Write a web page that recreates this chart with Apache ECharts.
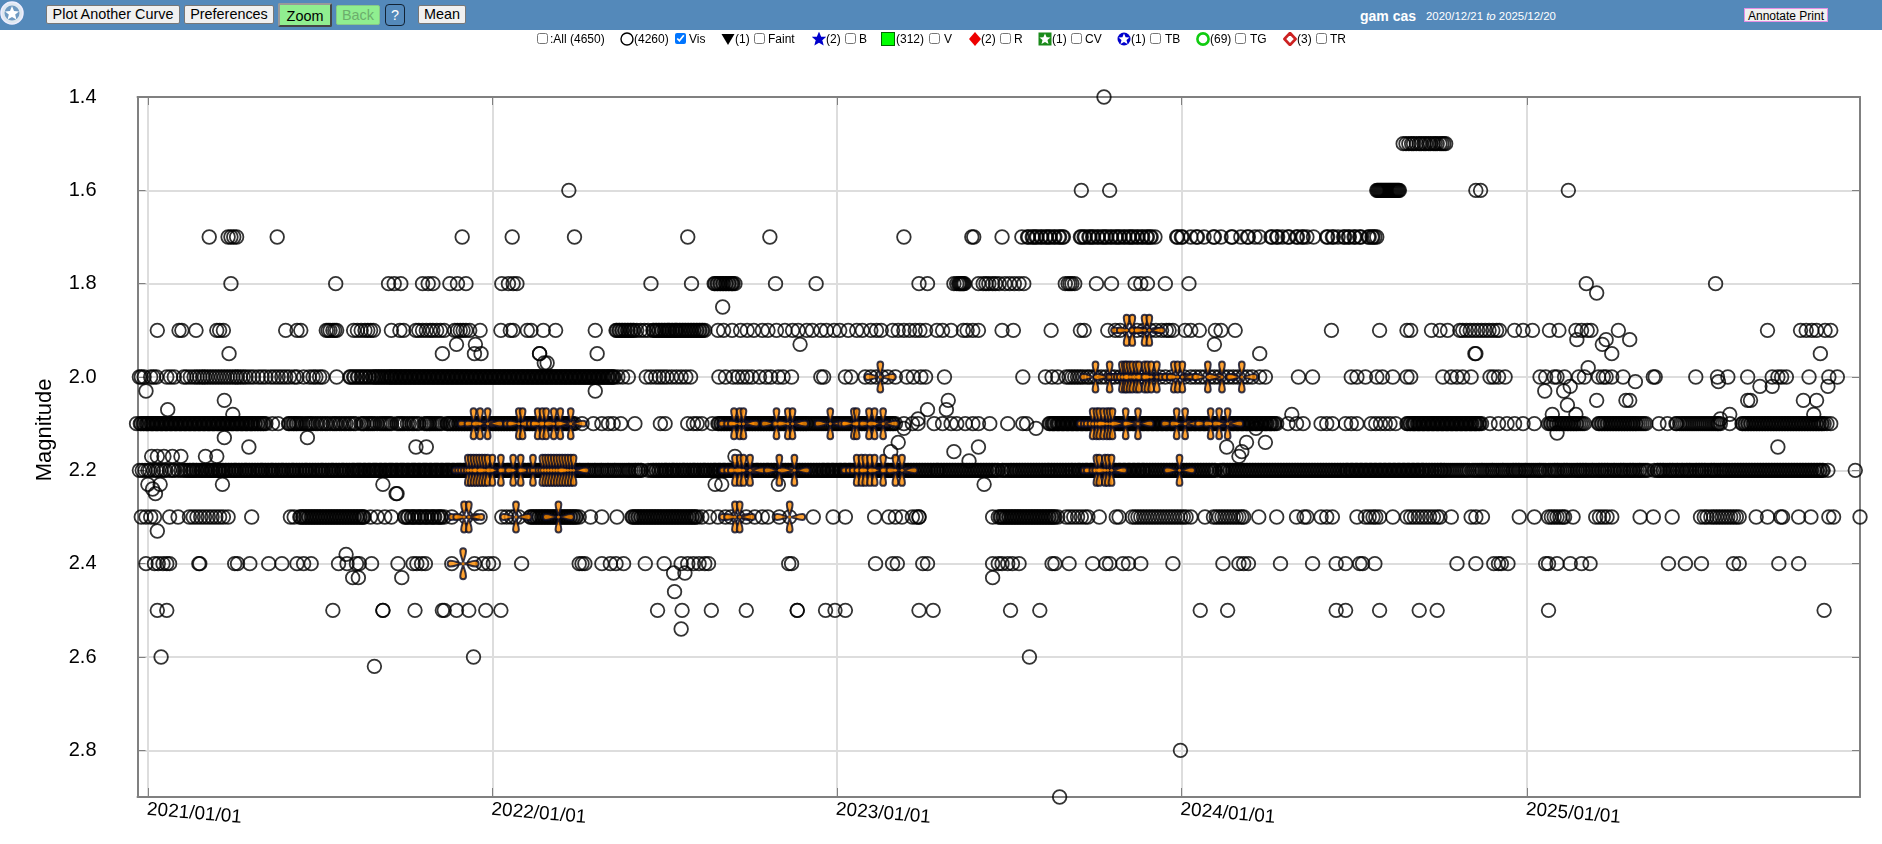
<!DOCTYPE html>
<html>
<head>
<meta charset="utf-8">
<title>gam cas light curve</title>
<script src="https://cdn.jsdelivr.net/npm/echarts@6/dist/echarts.min.js"></script>
<style>
html,body{margin:0;padding:0;width:1882px;height:844px;overflow:hidden;background:#fff;font-family:"Liberation Sans",Arial,sans-serif;}
#chart{position:absolute;left:0;top:0;width:1882px;height:844px;}
#bar{position:absolute;left:0;top:0;width:1882px;height:30px;background:#5489BA;}
.b{position:absolute;box-sizing:border-box;font:14.4px "Liberation Sans",Arial,sans-serif;padding:0;background:#f0f0f0;color:#000;border:1px solid #777;border-radius:2px;text-align:center;}
.t{position:absolute;white-space:nowrap;font:12px "Liberation Sans",Arial,sans-serif;color:#000;top:32px;line-height:14px;}
.c{position:absolute;top:33px;width:11px;height:11px;margin:0;}
.m{position:absolute;top:32px;}
</style>
</head>
<body>
<div id="chart"></div>
<div id="bar"></div>
<div id="top"></div>
<script>
const days14 = [1013];
const days15 = [1330,1333,1336,1339,1341,1344,1347,1349,1352,1354,1357,1359,1362,1364,1366,1369,1371,1373,1375];
const days16 = [446,989,1019,1302,1303,1304,1305,1306,1307,1308,1309,1310,1311,1312,1313,1314,1315,1316,1317,1318,1319,1320,1321,1322,1323,1324,1325,1326,1407,1412,1505];
const days17 = [65,85,88,91,94,137,333,386,452,572,659,801,873,875,905,926,932,933,937,938,941,942,946,947,951,952,955,956,960,961,965,966,969,970,988,989,992,993,997,998,1001,1002,1006,1007,1011,1012,1015,1016,1020,1021,1025,1026,1029,1030,1034,1035,1039,1040,1043,1044,1048,1049,1053,1054,1058,1059,1062,1063,1067,1090,1091,1095,1096,1105,1111,1112,1119,1129,1130,1137,1148,1149,1158,1165,1166,1173,1178,1190,1191,1196,1197,1202,1208,1209,1217,1218,1223,1224,1228,1235,1249,1250,1255,1256,1261,1267,1268,1272,1273,1278,1279,1284,1285,1293,1294,1297,1298,1300,1302];
const days18 = [88,199,255,261,268,291,297,302,320,328,337,375,382,387,391,533,576,600,601,603,604,606,607,609,610,612,613,615,616,618,619,620,622,665,708,817,826,860,862,864,865,854,857,859,861,863,880,885,888,891,895,898,902,908,913,918,923,928,972,975,977,979,982,1005,1021,1046,1052,1059,1078,1103,1524,1661];
const days19 = [10,33,36,51,73,76,80,146,158,162,189,191,193,196,198,200,218,222,226,230,233,236,239,258,267,271,284,287,291,295,299,302,306,310,314,325,328,331,334,337,341,352,374,384,387,402,406,419,432,474,496,497,499,500,502,503,505,506,508,509,511,512,514,515,518,522,526,530,535,536,538,539,541,542,544,545,547,548,550,551,552,553,555,556,558,559,560,561,563,564,566,567,569,570,572,573,575,576,578,579,581,582,584,585,587,588,590,604,610,619,628,635,642,651,657,666,675,683,689,698,704,713,719,727,733,742,751,757,766,772,777,789,795,801,807,813,818,824,836,842,851,864,868,874,880,905,917,957,988,992,1017,1025,1030,1040,1048,1055,1062,1068,1074,1079,1082,1086,1099,1105,1114,1131,1137,1152,1254,1305,1334,1338,1360,1369,1377,1390,1393,1397,1401,1405,1409,1413,1417,1421,1425,1429,1432,1448,1457,1467,1485,1495,1513,1519,1525,1529,1558,1716,1751,1757,1763,1768,1777,1783];
const days20 = [-9,-7,-4,3,6,9,20,24,28,38,41,45,49,52,55,58,60,63,66,69,72,75,78,81,84,87,90,93,95,98,101,104,108,112,117,121,125,130,134,138,142,146,150,155,158,165,171,175,178,182,185,200,214,218,222,226,230,234,238,241,244,247,250,253,256,258,261,263,266,268,271,273,276,278,281,283,286,288,291,293,296,298,301,303,306,308,311,313,316,318,321,323,326,328,331,333,336,338,341,343,346,348,351,353,356,358,361,363,366,368,371,373,376,378,381,383,386,388,391,393,396,398,401,403,406,408,411,413,416,418,421,423,426,428,431,433,436,438,441,443,446,448,451,453,456,458,461,463,466,468,471,473,476,478,481,483,486,488,491,493,498,503,509,528,533,538,542,546,550,555,560,565,570,575,605,612,620,625,630,635,640,648,655,660,668,673,682,713,716,739,745,760,766,772,778,784,792,804,811,819,824,844,927,951,958,964,973,976,979,982,985,988,991,995,998,1002,1005,1010,1015,1020,1024,1030,1034,1038,1042,1046,1050,1055,1060,1065,1072,1078,1085,1092,1098,1105,1110,1115,1120,1125,1130,1135,1140,1145,1150,1155,1160,1165,1170,1178,1184,1219,1234,1275,1281,1290,1302,1308,1319,1334,1338,1372,1381,1387,1393,1402,1422,1426,1431,1438,1475,1481,1490,1493,1501,1516,1522,1537,1542,1545,1551,1563,1595,1597,1640,1663,1674,1695,1721,1727,1731,1736,1760,1781,1790];
const days20b = [215,219,223,227,231,235,239,242,245,248,251,254,257,259,262,264,267,269,272,274,277,279,282,284,287,289,292,294,297,299,302,304,307,309,312,314,317,319,322,324,327,329,332,334,337,339,342,344,347,349,352,354,357,359,362,364,367,369,372,374,377,379,382,384,387,389,392,394,397,399,402,404,407,409,412,414,417,419,422,424,427,429,432,434,437,439,442,444,447,449,452,454,457,459,462,464,467,469,472,474,477,479,482,484,487,489,492,494];
const days21 = [-12,-8,-5,-2,0,3,5,8,10,13,15,18,20,23,25,28,30,33,35,38,40,43,45,48,50,53,55,58,60,63,65,68,70,73,75,78,80,83,85,88,90,93,95,98,100,103,105,108,110,113,116,119,122,125,132,138,149,152,155,158,162,167,171,175,180,185,190,196,200,205,210,215,220,226,229,232,236,240,246,250,254,258,264,268,272,277,282,287,293,296,299,303,307,311,317,320,323,326,329,332,335,338,341,344,347,350,353,356,359,362,365,368,371,374,377,380,383,386,389,392,395,398,401,404,407,410,413,416,419,422,425,428,431,434,437,440,443,446,449,452,460,472,481,488,493,501,516,543,548,572,578,582,587,598,604,607,610,613,616,619,622,625,628,631,634,637,640,643,646,649,652,655,658,661,664,667,670,673,676,679,682,685,688,691,694,697,700,704,708,712,716,720,724,728,732,736,740,744,748,751,754,757,760,763,766,769,772,775,778,781,784,787,790,792,801,810,816,833,842,851,857,866,874,880,892,911,927,931,955,958,960,963,965,968,970,973,975,978,980,983,985,988,990,993,995,998,1000,1003,1005,1008,1010,1013,1015,1018,1020,1023,1025,1028,1030,1033,1035,1038,1040,1043,1045,1048,1050,1053,1055,1058,1060,1063,1065,1068,1070,1073,1075,1078,1080,1083,1085,1088,1090,1093,1095,1098,1100,1103,1105,1108,1110,1113,1115,1118,1120,1123,1125,1128,1130,1133,1135,1138,1140,1143,1145,1148,1150,1153,1155,1158,1160,1163,1165,1168,1170,1173,1175,1178,1180,1183,1185,1188,1190,1193,1196,1208,1217,1224,1243,1249,1255,1269,1275,1281,1296,1301,1306,1311,1316,1322,1334,1337,1340,1342,1345,1347,1350,1352,1355,1357,1360,1362,1365,1367,1370,1372,1375,1377,1380,1382,1385,1387,1390,1392,1395,1397,1400,1402,1405,1407,1410,1413,1422,1431,1440,1448,1457,1469,1484,1487,1490,1493,1496,1499,1502,1505,1508,1511,1514,1518,1522,1537,1540,1543,1546,1549,1552,1555,1558,1561,1564,1567,1570,1573,1576,1579,1583,1587,1601,1610,1619,1623,1627,1631,1635,1639,1643,1647,1651,1655,1659,1663,1666,1676,1689,1692,1695,1698,1701,1704,1707,1710,1713,1716,1719,1722,1725,1728,1731,1734,1737,1740,1743,1746,1749,1752,1755,1758,1761,1764,1767,1770,1773,1776,1779,1783];
const days21b = [-7,-4,-1,1,4,6,9,11,14,16,19,21,24,26,29,31,34,36,39,41,44,46,49,51,54,56,59,61,64,66,69,71,74,76,79,81,84,86,89,91,94,96,99,101,104,106,109,111,114,117,120,123,150,154,157,160,164,169,173,178,183,188,193,198,203,208,213,218,228,234,238,243,248,252,256,266,270,275,280,285,295,298,301,305,309,318,321,324,327,330,333,336,339,342,345,348,351,354,357,360,363,366,369,372,375,378,381,384,387,390,393,396,399,402,405,408,411,414,417,420,423,426,429,432,435,438,441,444,447,450,605,608,611,614,617,620,623,626,629,632,635,638,641,644,647,650,653,656,659,662,665,668,671,674,677,680,683,686,689,692,695,698,702,706,710,714,718,722,726,730,734,738,742,746,750,753,756,759,762,765,768,771,774,777,780,783,786,789,956,959,961,964,966,969,971,974,976,979,981,984,986,989,991,994,996,999,1001,1004,1006,1009,1011,1014,1016,1019,1021,1024,1026,1029,1031,1034,1036,1039,1041,1044,1046,1049,1051,1054,1056,1059,1061,1064,1066,1069,1071,1074,1076,1079,1081,1084,1086,1089,1091,1094,1096,1099,1101,1104,1106,1109,1111,1114,1116,1119,1121,1124,1126,1129,1131,1134,1136,1139,1141,1144,1146,1149,1151,1154,1156,1159,1161,1164,1166,1169,1171,1174,1176,1179,1181,1184,1186,1189,1191,1194,1335,1338,1341,1343,1346,1348,1351,1353,1356,1358,1361,1363,1366,1368,1371,1373,1376,1378,1381,1383,1386,1388,1391,1393,1396,1398,1401,1403,1406,1408,1411,1486,1489,1492,1495,1498,1501,1504,1507,1510,1513,1516,1520,1538,1541,1544,1547,1550,1553,1556,1559,1562,1565,1568,1571,1574,1577,1581,1585,1620,1625,1629,1633,1637,1641,1645,1649,1653,1657,1661,1664,1690,1693,1696,1699,1702,1705,1708,1711,1714,1717,1720,1723,1726,1729,1732,1735,1738,1741,1744,1747,1750,1753,1756,1759,1762,1765,1768,1771,1774];
const days22 = [-9,-6,-3,0,2,6,9,11,14,17,19,23,26,28,32,35,38,40,44,47,49,52,56,58,61,64,67,69,72,75,77,80,83,86,89,92,94,97,100,103,105,108,111,114,117,120,122,125,128,131,133,136,139,142,144,147,150,153,155,158,161,164,167,169,172,175,178,181,184,186,189,192,195,197,200,203,206,208,211,214,217,219,222,224,226,229,231,234,236,239,241,243,246,248,251,253,256,258,260,263,265,268,270,272,275,277,280,282,284,287,289,292,294,296,299,301,304,306,308,311,313,316,318,320,323,325,328,330,332,335,337,340,342,344,347,349,352,354,356,359,361,364,366,369,371,373,376,378,381,383,385,388,390,393,395,398,400,403,405,407,410,412,415,417,420,422,424,427,429,432,434,437,439,441,444,446,449,451,454,457,460,464,467,471,474,478,481,485,488,492,495,499,503,507,510,514,517,520,523,530,533,536,539,542,545,548,550,553,556,558,561,564,567,569,572,575,578,580,583,586,589,591,594,597,600,602,605,607,610,612,615,617,620,622,625,627,630,632,635,637,640,642,645,647,650,653,656,658,661,664,667,670,673,676,679,682,685,688,691,694,697,700,703,706,709,712,715,717,720,722,725,727,730,733,735,738,740,743,745,748,750,753,755,758,760,763,765,768,770,773,775,778,780,783,785,788,790,793,795,798,800,803,806,809,812,815,818,821,824,827,830,833,836,838,841,844,847,850,853,856,859,862,865,868,871,874,877,880,883,886,889,892,895,898,901,905,908,912,915,918,921,924,927,930,933,936,939,942,945,948,951,954,957,960,963,966,969,972,975,978,980,983,986,988,991,994,996,999,1001,1004,1006,1009,1011,1014,1016,1019,1021,1024,1026,1029,1031,1034,1036,1039,1041,1044,1046,1049,1051,1054,1056,1059,1062,1065,1068,1071,1074,1077,1080,1083,1086,1089,1092,1095,1098,1101,1104,1107,1110,1113,1116,1119,1122,1125,1128,1131,1136,1139,1141,1144,1147,1150,1153,1156,1159,1162,1165,1168,1171,1174,1177,1180,1183,1186,1189,1192,1195,1198,1201,1204,1207,1210,1213,1216,1219,1222,1225,1228,1231,1234,1237,1240,1243,1246,1249,1252,1255,1258,1261,1264,1267,1270,1272,1275,1277,1280,1282,1285,1287,1290,1292,1295,1297,1300,1302,1305,1307,1310,1312,1315,1317,1320,1322,1325,1327,1330,1332,1335,1337,1340,1342,1345,1347,1350,1352,1355,1358,1361,1364,1367,1370,1373,1376,1380,1384,1388,1392,1394,1398,1403,1407,1411,1414,1418,1422,1425,1429,1433,1436,1440,1444,1447,1450,1453,1457,1460,1464,1468,1472,1475,1479,1484,1488,1491,1494,1498,1501,1504,1508,1512,1515,1518,1521,1524,1528,1531,1535,1538,1541,1544,1547,1551,1554,1558,1561,1564,1568,1571,1574,1578,1581,1585,1589,1596,1599,1602,1605,1608,1612,1615,1618,1621,1625,1628,1631,1634,1638,1641,1644,1647,1650,1654,1657,1660,1664,1667,1670,1673,1676,1679,1682,1685,1688,1691,1694,1697,1700,1703,1706,1709,1712,1715,1718,1721,1724,1727,1730,1733,1736,1739,1742,1745,1748,1751,1754,1757,1760,1763,1766,1769,1772,1775,1780,1809];
const days22b = [42,45,48,51,54,57,60,63,66,68,71,74,76,79,82,85,88,91,93,96,99,102,104,107,110,113,116,119,121,124,127,130,132,135,138,141,143,146,149,152,154,157,160,163,166,168,171,174,177,180,183,185,188,191,194,196,199,202,205,207,210,213,216,218,221,223,225,228,230,233,235,238,240,242,245,247,250,252,255,257,259,262,264,267,269,271,274,276,279,281,283,286,288,291,293,295,298,300,303,305,307,310,312,315,317,319,322,324,327,329,331,334,336,339,341,343,346,348,351,353,355,358,360,363,365,368,370,372,375,377,380,382,384,387,389,392,394,397,399,402,404,406,409,411,414,416,419,421,423,426,428,431,433,436,438,440,443,445,448,450,453,455,458,462,466,469,473,476,480,483,487,490,494,497,501,505,509,512,516,519,522,535,538,541,544,547,549,552,555,557,560,563,566,568,571,574,577,579,582,585,588,590,593,596,599,601,604,606,609,611,614,616,619,621,624,626,629,631,634,636,639,641,644,646,649,652,655,657,660,663,666,669,672,675,678,681,684,687,690,693,696,699,702,705,708,711,714,716,719,721,724,726,729,732,734,737,739,742,744,747,749,752,754,757,759,762,764,767,769,772,774,777,779,782,784,787,789,792,794,797,799,802,805,808,811,814,817,820,823,826,829,832,835,837,840,843,846,849,852,855,858,861,864,867,870,873,876,879,882,885,888,891,894,897,900,906,910,914,917,920,923,926,929,932,935,938,941,944,947,950,953,955,958,961,964,967,970,973,976,979,982,985,987,990,993,995,998,1000,1003,1005,1008,1010,1013,1015,1018,1020,1023,1025,1028,1030,1033,1035,1038,1040,1043,1045,1048,1050,1053,1055,1058,1061,1064,1067,1070,1073,1076,1079,1082,1085,1088,1091,1094,1097,1100,1103,1106,1109,1112,1115,1118,1121,1124,1127,1130,1138,1140,1143,1146,1149,1152,1155,1158,1161,1164,1167,1170,1173,1176,1179,1182,1185,1188,1191,1194,1197,1200,1203,1206,1209,1212,1215,1218,1221,1224,1227,1230,1233,1236,1239,1242,1245,1248,1251,1254,1257,1260,1263,1266,1269,1271,1274,1276,1279,1281,1284,1286,1289,1291,1294,1296,1299,1301,1304,1306,1309,1311,1314,1316,1319,1321,1324,1326,1329,1331,1334,1336,1339,1341,1344,1346,1349,1351,1354,1357,1360,1363,1366,1369,1371,1374,1378,1382,1386,1390,1396,1400,1405,1409,1413,1416,1420,1424,1427,1431,1435,1438,1442,1446,1449,1452,1455,1459,1462,1466,1470,1474,1477,1481,1486,1490,1493,1496,1500,1503,1506,1510,1514,1517,1520,1523,1526,1530,1533,1537,1540,1543,1546,1549,1553,1556,1560,1563,1566,1570,1573,1576,1580,1583,1587,1600,1603,1606,1610,1613,1616,1620,1623,1626,1630,1633,1636,1640,1643,1646,1649,1652,1656,1659,1662,1666,1669,1672,1675,1678,1681,1684,1687,1690,1693,1696,1699,1702,1705,1708,1711,1714,1717,1720,1723,1726,1729,1732,1735,1738,1741,1744,1747,1750,1753,1756,1759,1762,1765,1768,1771,1774];
const days23 = [-7,-2,3,7,23,32,44,48,52,56,60,64,68,72,76,80,85,110,151,155,161,164,167,170,173,176,179,182,185,188,191,194,197,200,203,206,209,212,215,218,221,224,227,229,236,243,251,258,272,275,279,282,286,289,293,296,300,303,307,310,314,322,337,352,375,380,385,389,393,405,408,411,414,417,420,423,426,429,432,435,438,441,444,447,450,453,457,469,481,497,513,516,519,522,525,528,531,534,537,540,543,546,549,552,555,558,561,564,567,570,573,576,579,582,587,595,604,612,618,625,634,643,651,657,669,680,705,726,739,770,785,792,799,810,814,817,817,895,901,903,906,909,912,915,918,921,924,927,930,933,936,939,942,945,948,951,954,957,960,964,973,977,981,985,989,993,996,1008,1026,1029,1043,1046,1049,1052,1055,1058,1061,1064,1067,1070,1073,1076,1079,1082,1085,1088,1091,1094,1097,1100,1105,1120,1129,1132,1135,1138,1141,1144,1147,1150,1153,1156,1159,1161,1177,1196,1217,1225,1228,1243,1249,1255,1281,1290,1294,1298,1301,1305,1319,1334,1338,1342,1346,1350,1354,1358,1362,1366,1369,1381,1402,1407,1414,1453,1469,1484,1487,1490,1493,1496,1499,1501,1510,1534,1538,1542,1546,1551,1581,1595,1615,1645,1649,1652,1656,1659,1662,1665,1668,1671,1674,1677,1680,1683,1686,1704,1716,1730,1732,1749,1762,1781,1786,1814];
const days23b = [162,165,168,171,174,177,180,183,186,189,192,195,198,201,204,207,210,213,216,219,222,225,228,273,276,280,283,287,290,294,297,301,304,308,311,406,409,412,415,418,421,424,427,430,433,436,439,442,445,448,451,454,514,517,520,523,526,529,532,535,538,541,544,547,550,553,556,559,562,565,568,571,574,577,580,904,907,910,913,916,919,922,925,928,931,934,937,940,943,946,949,952,955,958,961];
const days24 = [-2,7,11,16,20,23,54,55,92,95,108,128,142,158,165,173,202,211,221,224,237,265,281,285,290,294,322,346,355,361,366,396,457,460,463,481,490,496,504,527,547,565,572,578,584,590,594,679,682,771,789,794,821,826,895,901,905,911,916,923,958,961,976,1001,1015,1019,1033,1039,1052,1086,1139,1156,1161,1166,1200,1234,1259,1269,1284,1287,1300,1387,1407,1426,1431,1434,1441,1481,1484,1493,1507,1519,1528,1611,1629,1646,1680,1686,1728,1749];
const days25 = [10,20,196,249,249,283,312,314,327,340,358,374,540,566,597,634,688,688,718,728,739,817,832,914,945,1115,1144,1259,1269,1305,1347,1366,1484,1776];
const days26 = [14,345,934];
const days28 = [1094];
const days29 = [966];
// observations at in-between magnitudes
const offDays = [609,1535,1406,1407,1772,86,312,346,353,327,347,415,415,423,420,476,691,-2,474,848,1514,1541,1545,1551,1570,1130,1178,1664,1708,1721,1780,1480,1500,1507,1535,1566,1570,1695,1698,1754,1768,1504,1526,1576,21,81,90,81,169,107,284,295,4,10,17,26,35,61,73,0,13,5,8,79,249,263,264,10,210,217,223,269,557,569,558,565,240,826,846,816,801,795,787,854,880,870,622,886,601,608,668,895,941,1212,1143,1164,1184,1159,1156,1174,1488,1513,1493,1676,1666,1765,1727];
const offMags = [1.85,1.82,1.95,1.95,1.95,1.95,1.95,1.95,1.95,1.93,1.93,1.95,1.95,1.97,1.97,1.95,1.93,2.03,2.03,2.05,1.92,1.93,1.92,1.95,1.92,1.93,1.95,2.01,2.02,2.02,2.02,2.03,2.03,2.02,2.05,2.05,2.05,2.05,2.05,2.05,2.05,2.06,1.98,2.01,2.07,2.05,2.08,2.13,2.13,2.15,2.15,2.15,2.17,2.17,2.17,2.17,2.17,2.17,2.17,2.23,2.23,2.24,2.25,2.23,2.23,2.25,2.25,2.33,2.38,2.43,2.43,2.43,2.42,2.42,2.46,2.54,2.62,2.07,2.07,2.09,2.11,2.14,2.16,2.16,2.15,2.18,2.17,2.23,2.23,2.23,2.23,2.43,2.11,2.08,2.15,2.14,2.14,2.16,2.17,2.11,2.08,2.08,2.12,2.08,2.09,2.08,2.15];
// V-band observations
const vDays19 = [1037,1043,1056,1061];
const vDays20 = [776,1004,1019,1032,1035,1037,1040,1043,1047,1050,1056,1059,1063,1069,1087,1091,1096,1123,1138,1159];
const vDays21 = [345,352,360,393,397,413,418,422,430,437,448,621,627,631,666,678,683,723,748,751,764,770,779,1001,1005,1008,1012,1016,1019,1022,1036,1049,1090,1099,1126,1135,1144];
const vDays22 = [339,342,345,348,351,354,357,360,365,374,387,395,408,418,421,424,427,430,433,436,439,442,445,448,451,622,627,631,638,669,685,751,756,760,765,770,779,792,799,1005,1008,1014,1017,1021,1093];
const vDays23 = [335,340,390,435,622,627,680];
const vDays24 = [334];
// axes
const xTickDays = [0,365,730,1095,1461];
const xTickLabels = ['2021/01/01','2022/01/01','2023/01/01','2024/01/01','2025/01/01'];
const yTickMags = [1.4,1.6,1.8,2.0,2.2,2.4,2.6,2.8];
const xMinDay = -11, xMaxDay = 1814, yTop = 1.4, yBottom = 2.9;

const rows = [[1.4,days14],[1.5,days15],[1.6,days16],[1.7,days17],[1.8,days18],[1.9,days19],[2.0,days20],[2.0,days20b],[2.1,days21],[2.1,days21b],[2.2,days22],[2.2,days22b],[2.3,days23],[2.3,days23b],[2.4,days24],[2.5,days25],[2.6,days26],[2.8,days28],[2.9,days29]];
const vRows = [[1.9,vDays19],[2.0,vDays20],[2.1,vDays21],[2.2,vDays22],[2.3,vDays23],[2.4,vDays24]];
const visData = [];
rows.forEach(([m,ds]) => ds.forEach(d => visData.push([d,m])));
offDays.forEach((d,i) => visData.push([d,offMags[i]]));
const vData = [];
vRows.forEach(([m,ds]) => ds.forEach(d => vData.push([d,m])));

const fourPetals = 'path://M16 16C15.8 12 13.4 9.2 13.4 4.6A2.6 2.6 0 1 1 18.6 4.6C18.6 9.2 16.2 12 16 16Z' +
  'M16 16C15.8 20 13.4 22.8 13.4 27.4A2.6 2.6 0 1 0 18.6 27.4C18.6 22.8 16.2 20 16 16Z' +
  'M16 16C12 15.8 9.2 13.4 4.6 13.4A2.6 2.6 0 1 0 4.6 18.6C9.2 18.6 12 16.2 16 16Z' +
  'M16 16C20 15.8 22.8 13.4 27.4 13.4A2.6 2.6 0 1 1 27.4 18.6C22.8 18.6 20 16.2 16 16Z';

const grey = '#808080';
const baseX = {type:'value',min:xMinDay,max:xMaxDay};
const baseY = {type:'value',inverse:true,min:yTop,max:yBottom};
const chart = echarts.init(document.getElementById('chart'),null,{renderer:'canvas'});
chart.setOption({
  animation:false,
  backgroundColor:'#fff',
  grid:{left:137.5,top:97,width:1722.5,height:700,show:false},
  xAxis:[
    Object.assign({},baseX,{position:'bottom',
      axisLine:{show:true,onZero:false,lineStyle:{color:grey,width:2}},
      axisTick:{show:true,inside:true,length:9,customValues:xTickDays,lineStyle:{color:grey,width:1}},
      axisLabel:{show:true,customValues:xTickDays,rotate:-5,align:'left',verticalAlign:'top',margin:3,
        color:'#000',fontFamily:'"Liberation Sans",Arial,sans-serif',fontSize:19,hideOverlap:false,
        formatter:v=>xTickLabels[xTickDays.indexOf(v)]||''},
      splitLine:{show:true,lineStyle:{color:'#dddddd',width:2}}}),
    Object.assign({},baseX,{position:'top',
      axisLine:{show:true,onZero:false,lineStyle:{color:grey,width:2}},
      axisTick:{show:true,inside:true,length:8,customValues:xTickDays,lineStyle:{color:grey,width:1}},
      axisLabel:{show:false},splitLine:{show:false}})
  ],
  yAxis:[
    Object.assign({},baseY,{position:'left',name:'Magnitude',nameLocation:'middle',nameGap:82,nameRotate:90,
      nameTextStyle:{color:'#000',fontSize:22,fontFamily:'"Liberation Sans",Arial,sans-serif',padding:[0,0,0,34]},
      axisLine:{show:true,onZero:false,lineStyle:{color:grey,width:2}},
      axisTick:{show:true,inside:true,length:8,customValues:yTickMags,lineStyle:{color:grey,width:1}},
      axisLabel:{show:true,customValues:yTickMags,margin:41,color:'#000',fontSize:20,
        fontFamily:'"Liberation Sans",Arial,sans-serif',formatter:v=>v.toFixed(1)},
      splitLine:{show:true,lineStyle:{color:'#dddddd',width:2}}}),
    Object.assign({},baseY,{position:'right',
      axisLine:{show:true,onZero:false,lineStyle:{color:grey,width:2}},
      axisTick:{show:true,inside:true,length:8,customValues:yTickMags,lineStyle:{color:grey,width:1}},
      axisLabel:{show:false},splitLine:{show:false}})
  ],
  series:[
    {name:'Vis',type:'scatter',data:visData,clip:false,symbol:'circle',symbolSize:13.6,large:false,progressive:0,
      itemStyle:{color:'rgba(0,0,0,0)',borderColor:'#000',borderWidth:1.8},z:3,silent:true},
    {name:'V',type:'scatter',data:vData,clip:false,symbol:fourPetals,symbolSize:31,progressive:0,
      itemStyle:{color:'#ff8c00',borderColor:'#050a28',borderWidth:2},z:4,silent:true},
    {name:'V centre',type:'scatter',data:vData,clip:false,symbol:'circle',symbolSize:3,progressive:0,
      itemStyle:{color:'#ff8c00'},z:5,silent:true}
  ]
});

// ---- page header: buttons, title and the legend row ----
const top_ = document.getElementById('top');
const buttons = [
 ['Plot Another Curve',46,5,134,19,{}],
 ['Preferences',184,5,90,19,{}],
 ['Zoom',278,3,54,24,{background:'#90ee90',border:'2px outset #999'}],
 ['Back',336,5,44,20,{background:'#90ee90',color:'#6cae6c',border:'1px solid #88c888'}],
 ['?',385,4,20,22,{background:'#5489BA',color:'#fff',border:'1px solid #123',borderRadius:'4px'}],
 ['Mean',418,5,48,19,{}],
 ['Annotate Print',1744,8,84,14,{font:'12px "Liberation Sans",Arial,sans-serif',border:'1px solid #e58fe5',borderRadius:'0'}]
];
buttons.forEach(([txt,x,y,w,h,st])=>{
  const b=document.createElement('button');b.className='b';b.textContent=txt;
  Object.assign(b.style,{left:x+'px',top:y+'px',width:w+'px',height:h+'px',lineHeight:(h-2)+'px'},st);
  top_.appendChild(b);
});
const addText=(html,x,y,st)=>{const s=document.createElement('span');s.className='t';s.innerHTML=html;s.style.left=x+'px';if(y!=null)s.style.top=y+'px';Object.assign(s.style,st||{});top_.appendChild(s);};
addText('gam cas',1360,9,{color:'#fff',fontWeight:'bold',fontSize:'14px'});
addText('2020/12/21 <i>to</i> 2025/12/20',1426,9,{color:'#fff',fontSize:'11.4px'});

const legendTexts = [[':All (4650)',550],['(4260)',634],['Vis',689],['(1)',735],['Faint',768],['(2)',826],['B',859],['(312)',896],['V',944],['(2)',981],['R',1014],['(1)',1052],['CV',1085],['(1)',1131],['TB',1165],['(69)',1210],['TG',1250],['(3)',1297],['TR',1330]];
legendTexts.forEach(([t,x])=>addText(t,x));
const legendBoxes = [537,675,754,845,929,1000,1071,1150,1235,1316];
legendBoxes.forEach(x=>{const c=document.createElement('input');c.type='checkbox';c.className='c';c.style.left=x+'px';if(x===675)c.checked=true;top_.appendChild(c);});
const star='M7 1.5L8.6 5.2L12.5 5.4L9.5 8L10.5 12L7 9.9L3.5 12L4.5 8L1.5 5.4L5.4 5.2Z';
const glyphs = [
 [620,'<circle cx="7" cy="7" r="6" fill="none" stroke="#000" stroke-width="1.4"/>'],
 [721,'<path d="M0.5 2H13.5L7 13Z" fill="#000"/>'],
 [812,'<path d="'+star+'" fill="#00c" stroke="#00c" stroke-width="1.5"/>'],
 [881,'<rect x="0.5" y="0.5" width="13" height="13" fill="#0f0" stroke="#060"/>'],
 [968,'<path d="M7 0L13 7L7 14L1 7Z" fill="#e00"/>'],
 [1038,'<rect x="0.5" y="0.5" width="13" height="13" fill="#1a8a1a"/><path d="'+star+'" fill="#fff"/>'],
 [1117,'<circle cx="7" cy="7" r="6.5" fill="#00c"/><path d="'+star+'" fill="#fff"/>'],
 [1196,'<circle cx="7" cy="7" r="5.6" fill="#fff" stroke="#1c1" stroke-width="2.6"/>'],
 [1283,'<path d="M7 1L12.6 7L7 13L1.4 7Z" fill="#fff" stroke="#c22" stroke-width="2.6" stroke-linejoin="round"/>']
];
glyphs.forEach(([x,inner])=>{const d=document.createElement('div');d.className='m';d.style.left=x+'px';d.innerHTML='<svg width="14" height="14" viewBox="0 0 14 14">'+inner+'</svg>';top_.appendChild(d);});
// seal logo
const logo=document.createElement('div');logo.style.cssText='position:absolute;left:0;top:0;';
logo.innerHTML='<svg width="25" height="26" viewBox="0 0 25 26"><circle cx="12" cy="13" r="11" fill="#dfe8f0" stroke="#eef" stroke-width="1.5"/><circle cx="12" cy="13" r="7.5" fill="#6f9ac2"/><path d="M12 6L14 11L19 11.4L15.2 14.6L16.4 19.6L12 16.9L7.6 19.6L8.8 14.6L5 11.4L10 11Z" fill="#fff"/></svg>';
top_.appendChild(logo);
</script>
</body>
</html>
